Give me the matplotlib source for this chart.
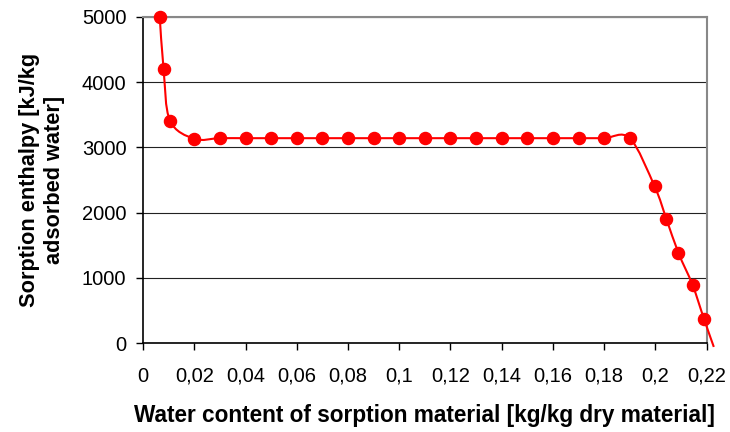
import numpy as np
import matplotlib.pyplot as plt
from matplotlib.path import Path
from matplotlib.patches import PathPatch

plt.rcParams['font.family'] = ['Liberation Sans', 'DejaVu Sans']

# measured points (water content, sorption enthalpy)
water_content = [0.0065, 0.008, 0.0105, 0.02, 0.03, 0.04, 0.05, 0.06, 0.07, 0.08,
                 0.09, 0.10, 0.11, 0.12, 0.13, 0.14, 0.15, 0.16, 0.17, 0.18,
                 0.19, 0.1997, 0.2043, 0.209, 0.2145, 0.219]
enthalpy = [5000, 4200, 3410, 3130, 3140, 3140, 3140, 3140, 3140, 3140,
            3140, 3140, 3140, 3140, 3140, 3140, 3140, 3140, 3140, 3140,
            3140, 2400, 1900, 1380, 890, 365]
# the smoothed line runs on a little past the last marker
tail_x = [0.2228]
tail_y = [-60]

x_ticks = [0, 0.02, 0.04, 0.06, 0.08, 0.1, 0.12, 0.14, 0.16, 0.18, 0.2, 0.22]
x_tick_labels = ['0', '0,02', '0,04', '0,06', '0,08', '0,1', '0,12', '0,14',
                 '0,16', '0,18', '0,2', '0,22']
y_ticks = [0, 1000, 2000, 3000, 4000, 5000]


def smooth_path(xs, ys, t=1 / 6):
    # Catmull-Rom style cubic Bezier through the points (like Excel smoothing)
    pts = np.column_stack([xs, ys]).astype(float)
    verts = [pts[0]]
    codes = [Path.MOVETO]
    n = len(pts)
    for i in range(n - 1):
        p0 = pts[i - 1] if i > 0 else pts[i]
        p1 = pts[i]
        p2 = pts[i + 1]
        p3 = pts[i + 2] if i + 2 < n else pts[i + 1]
        c1 = p1 + (p2 - p0) * t
        c2 = p2 - (p3 - p1) * t
        verts += [c1, c2, p2]
        codes += [Path.CURVE4] * 3
    return Path(verts, codes)


fig = plt.figure(figsize=(7.3, 4.32), dpi=100)
ax = fig.add_axes([0.196, 0.206, 0.772, 0.755])

line_x = water_content + tail_x
line_y = enthalpy + tail_y
patch = PathPatch(smooth_path(line_x, line_y), facecolor='none', edgecolor='#ff0000',
                  lw=1.5, clip_on=False, zorder=3)
ax.add_patch(patch)
ax.plot(water_content, enthalpy, 'o', color='#ff0000', markersize=8.7,
        clip_on=False, zorder=4)

ax.set_xlim(0, 0.22)
ax.set_ylim(0, 5000)
ax.set_xticks(x_ticks)
ax.set_xticklabels(x_tick_labels)
ax.set_yticks(y_ticks)
ax.tick_params(axis='both', direction='out', length=5, width=1, labelsize=14.5,
               color='black')
ax.tick_params(axis='y', pad=7)
ax.tick_params(axis='x', pad=12)

ax.grid(axis='y', color='#222222', lw=0.8)
ax.set_axisbelow(True)
for side in ['top', 'right']:
    ax.spines[side].set_color('#888888')
    ax.spines[side].set_linewidth(1.5)
for side in ['left', 'bottom']:
    ax.spines[side].set_color('black')
    ax.spines[side].set_linewidth(1.2)

ax.set_xlabel('Water content of sorption material [kg/kg dry material]',
              fontsize=16.3, fontweight='bold', labelpad=13)
ax.set_ylabel('Sorption enthalpy [kJ/kg\nadsorbed water]', fontsize=15.7,
              fontweight='bold', labelpad=12, linespacing=1.25)

fig.savefig('out.png', dpi=100)
